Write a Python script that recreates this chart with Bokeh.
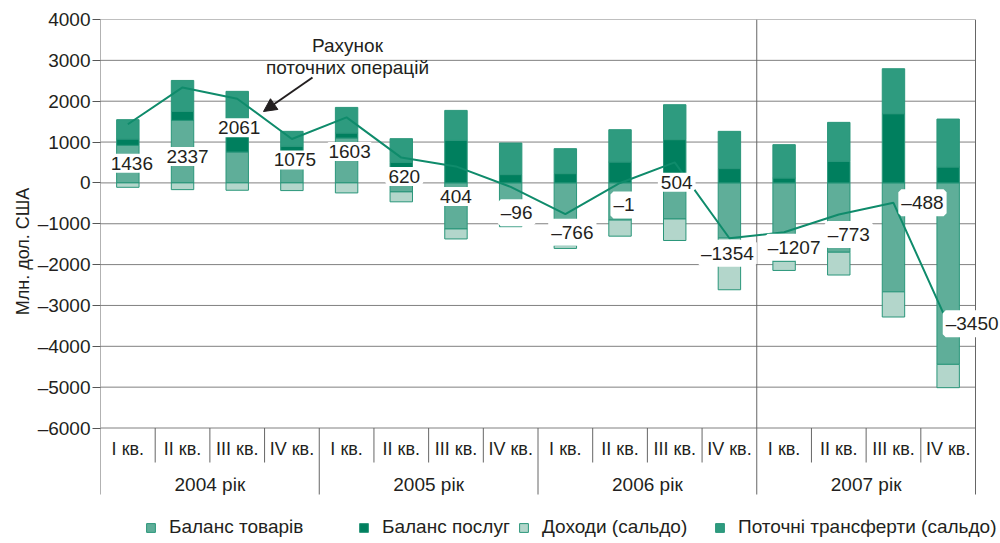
import math
import numpy as np
from bokeh.plotting import figure
from bokeh.models import (ColumnDataSource, Range1d, FixedTicker, LabelSet, Label,
                          Legend, LegendItem, Arrow, NormalHead, Title)
from bokeh.core.properties import value
from bokeh.embed import file_html
from bokeh.resources import INLINE

# ---------------- data ----------------
years = ["2004 рік", "2005 рік", "2006 рік", "2007 рік"]
quarters = ["I кв.", "II кв.", "III кв.", "IV кв."]
goods = [919, 1530, 756, 600, 1098, -220, -1127, -830,
         -1534, -910, -883, -1350, -1920, -1697, -2667, -4442]
services = [154, 220, 500, 295, 122, 504, 1040, 203,
            227, 511, 1059, 350, 120, 528, 1694, 389]
income = [-108, -165, -180, -188, -245, -243, -245, -242,
          -70, -394, -527, -1266, -223, -558, -616, -571]
transfers = [475, 758, 985, 367, 628, 579, 735, 773,
             611, 792, 855, 912, 816, 954, 1101, 1174]
current_account = [1436, 2337, 2061, 1075, 1603, 620, 404, -96,
                   -766, -1, 504, -1354, -1207, -773, -488, -3450]
y_ticks = [-6000, -5000, -4000, -3000, -2000, -1000, 0, 1000, 2000, 3000, 4000]
series_names = ["Баланс товарів", "Баланс послуг", "Доходи (сальдо)",
                "Поточні трансферти (сальдо)"]
y_title = "Млн. дол. США"

# label placement relative to the line point (screen px: right, down)
label_dx = [4, 5, 2, 3, 3, 3, 0, 6, 7, 4, 2, -2, 10, 10, 29, 24]
label_dy = [39, 69, 29, 21, 34, 19, 30, 26, 18, 22, 20, 15, 15, 20, 0, 0]

# ---------------- style ----------------
FONT = "Liberation Sans"
TXT = "#231f20"
C_GOODS = "#5fae99"
C_SERV = "#007f5e"
C_INC = "#b3d6cb"
C_TRANS = "#2e9b7f"
C_EDGE = "#2a967a"
C_LINE = "#0f8b6b"
C_GRID = "#808080"

PX_X = 54.6875      # px per category
PX_Y = 0.04085      # px per unit
W, H = 1000, 543
LEFT, TOP = 100, 19
frame_w = W - LEFT
frame_h = H - TOP

n = len(goods)
nq = len(quarters)
x = np.arange(n) + 0.5
g = np.array(goods, float)
gpos = np.maximum(g, 0)
gneg = np.minimum(g, 0)
s = np.array(services, float)
t = np.array(transfers, float)
inc = np.array(income, float)

def ydat(page_y):
    # convert a pixel row to a data value (zero line at row 182.4)
    return (182.4 - page_y) / PX_Y

p = figure(width=W, height=H, output_backend="svg", toolbar_location=None,
           x_range=Range1d(0, frame_w / PX_X),
           y_range=Range1d(4000 - frame_h / PX_Y, 4000),
           x_axis_type=None,
           min_border_left=LEFT, min_border_right=0,
           min_border_top=TOP, min_border_bottom=0)
p.outline_line_color = None
p.ygrid.visible = False
p.background_fill_color = "white"

ax = p.yaxis[0]
ax.ticker = FixedTicker(ticks=y_ticks)
ax.major_label_overrides = {v: str(v).replace("-", "–") for v in y_ticks}
ax.axis_line_color = None
ax.major_tick_line_color = "#555555"
ax.major_tick_out = 8
ax.major_tick_in = 0
ax.minor_tick_line_color = None
ax.major_label_standoff = 2
ax.major_label_text_font = FONT
ax.major_label_text_font_size = "19px"
ax.major_label_text_color = TXT

# y-axis title (leading no-break spaces lift the centred text upward)
p.add_layout(Title(text="\u00a0" * 12 + y_title, align="center",
                   standoff=4, text_font=FONT, text_font_size="18px",
                   text_font_style="normal", text_color=TXT), "left")

# gridlines (stop at last category)
p.segment(x0=[0] * len(y_ticks), x1=[n] * len(y_ticks), y0=y_ticks, y1=y_ticks,
          line_color=C_GRID, line_width=1)

# vertical separators
y_q_end = ydat(462)
y_y_end = ydat(494)
full_x = [0, 3 * nq, n]
year_x = [k * nq for k in range(1, len(years)) if k * nq not in full_x]
quarter_x = [k for k in range(1, n) if k % nq != 0]
p.segment(x0=full_x, x1=full_x, y0=[4000] * len(full_x), y1=[y_y_end] * len(full_x),
          line_color="#666666", line_width=1)
p.segment(x0=year_x, x1=year_x, y0=[y_ticks[0]] * len(year_x), y1=[y_y_end] * len(year_x),
          line_color="#666666", line_width=1)
p.segment(x0=quarter_x, x1=quarter_x, y0=[y_ticks[0]] * len(quarter_x),
          y1=[y_q_end] * len(quarter_x), line_color="#666666", line_width=1)

# bars
BW = 0.41
src = ColumnDataSource(dict(
    x=x,
    g_b=gneg, g_t=gpos,
    s_b=gpos, s_t=gpos + s,
    t_b=gpos + s, t_t=gpos + s + t,
    i_t=gneg, i_b=gneg + inc,
))
r_goods = p.vbar(x="x", width=BW, bottom="g_b", top="g_t", source=src,
                 fill_color=C_GOODS, line_color=C_EDGE, line_width=1)
r_serv = p.vbar(x="x", width=BW, bottom="s_b", top="s_t", source=src,
                fill_color=C_SERV, line_color=C_EDGE, line_width=1)
r_trans = p.vbar(x="x", width=BW, bottom="t_b", top="t_t", source=src,
                 fill_color=C_TRANS, line_color=C_EDGE, line_width=1)
r_inc = p.vbar(x="x", width=BW, bottom="i_b", top="i_t", source=src,
               fill_color=C_INC, line_color=C_EDGE, line_width=1)

# current account line
p.line(x=x, y=current_account, line_color=C_LINE, line_width=2)

lsrc = ColumnDataSource(dict(
    x=x, y=current_account,
    text=[str(v).replace("-", "–") for v in current_account],
    dx=label_dx, dy=[-d for d in label_dy],
))
p.add_layout(LabelSet(x="x", y="y", text="text", source=lsrc,
                      x_offset="dx", y_offset="dy",
                      text_align="center", text_baseline="middle",
                      text_font=value(FONT), text_font_size="19px", text_color=TXT,
                      background_fill_color="white",
                      border_line_color="white", border_line_width=6))

# category axis drawn inside the frame
qlabels = [quarters[i % nq] for i in range(n)]
p.text(x=x, y=[ydat(448)] * n, text=qlabels, text_align="center",
       text_baseline="middle", text_font=value(FONT), text_font_size="18px",
       text_color=TXT)
yx = [k * nq + nq / 2 for k in range(len(years))]
p.text(x=yx, y=[ydat(484)] * len(years), text=years, text_align="center",
       text_baseline="middle", text_font=value(FONT), text_font_size="19px",
       text_color=TXT)

# annotation
p.add_layout(Label(x=(347 - 100) / PX_X, y=ydat(45), text="Рахунок",
                   text_align="center", text_baseline="middle",
                   text_font=FONT, text_font_size="19px", text_color=TXT))
p.add_layout(Label(x=(347 - 100) / PX_X, y=ydat(67), text="поточних операцій",
                   text_align="center", text_baseline="middle",
                   text_font=FONT, text_font_size="19px", text_color=TXT))
p.add_layout(Arrow(end=NormalHead(size=13, fill_color=TXT, line_color=TXT),
                   x_start=(312 - 100) / PX_X, y_start=ydat(77),
                   x_end=(263 - 100) / PX_X, y_end=ydat(111),
                   line_color=TXT, line_width=2))

# legends (one per item, positioned individually)
marker_left = [145, 358, 518, 714]
renders = [r_goods, r_serv, r_inc, r_trans]
for name, r, mx in zip(series_names, renders, marker_left):
    lg = Legend(items=[LegendItem(label=name, renderers=[r])],
                location=(mx - LEFT, 5), orientation="horizontal",
                glyph_width=11, glyph_height=11, label_height=11,
                label_standoff=13, padding=0, margin=0, spacing=0,
                border_line_color=None, background_fill_alpha=0,
                label_text_font=FONT, label_text_font_size="19px",
                label_text_color=TXT)
    p.add_layout(lg)

open("out.html", "w").write(file_html(p, INLINE))
